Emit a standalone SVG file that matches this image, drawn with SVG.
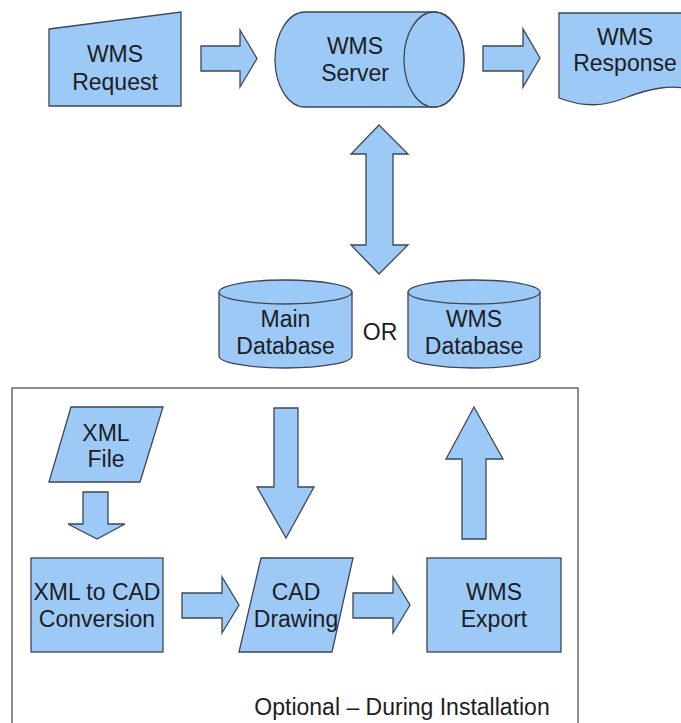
<svg xmlns="http://www.w3.org/2000/svg" width="681" height="723" viewBox="0 0 681 723">
<style>
.s{fill:#9dc9f6;stroke:#3d4756;stroke-width:1.3;stroke-linejoin:miter}
.t{font-family:"Liberation Sans",Arial,sans-serif;font-size:23px;fill:#1b1d24;text-anchor:middle}
.box{fill:#ffffff;stroke:#707070;stroke-width:1.6}
</style>
<rect width="681" height="723" fill="#ffffff"/>
<g id="optional-group">
<rect class="box" x="12" y="388" width="566" height="350"/>
<text class="t" x="402" y="715">Optional – During Installation</text>
</g>
<g id="wms-request">
<polygon class="s" points="49,29 181,12 181,106 49,106"/>
<text class="t" x="115" y="62">WMS</text>
<text class="t" x="115" y="90">Request</text>
</g>
<g id="wms-server">
<path class="s" d="M305,12 H434 A30,47.5 0 0 1 434,107 H305 A30,47.5 0 0 1 305,12 Z"/>
<ellipse class="s" cx="434" cy="59.5" rx="30" ry="47.5"/>
<text class="t" x="355" y="54">WMS</text>
<text class="t" x="355" y="81">Server</text>
</g>
<g id="wms-response">
<path class="s" d="M559,13 H695 V90 C672,84 650,88 625,98 C605,106 585,108 559,98 Z"/>
<text class="t" x="625" y="45">WMS</text>
<text class="t" x="625" y="71">Response</text>
</g>
<g id="main-database">
<path class="s" d="M219,292 A66.5,12 0 0 1 352,292 V356 A66.5,12 0 0 1 219,356 Z"/>
<path class="s" d="M219,292 A66.5,12 0 0 0 352,292"/>
<text class="t" x="285.5" y="327">Main</text>
<text class="t" x="285.5" y="354">Database</text>
</g>
<g id="or-label">
<text class="t" x="380" y="340">OR</text>
</g>
<g id="wms-database">
<path class="s" d="M408,292 A66,12 0 0 1 540,292 V356 A66,12 0 0 1 408,356 Z"/>
<path class="s" d="M408,292 A66,12 0 0 0 540,292"/>
<text class="t" x="474" y="327">WMS</text>
<text class="t" x="474" y="354">Database</text>
</g>
<g id="xml-file">
<polygon class="s" points="71,407 163,407 140,482 49,482"/>
<text class="t" x="106" y="441">XML</text>
<text class="t" x="106" y="467">File</text>
</g>
<g id="xml-to-cad">
<rect class="s" x="31" y="558" width="132" height="94"/>
<text class="t" x="97" y="600">XML to CAD</text>
<text class="t" x="97" y="627">Conversion</text>
</g>
<g id="cad-drawing">
<polygon class="s" points="261,558 353,558 332,652 239,652"/>
<text class="t" x="296" y="600">CAD</text>
<text class="t" x="296" y="627">Drawing</text>
</g>
<g id="wms-export">
<rect class="s" x="427" y="558" width="134" height="94"/>
<text class="t" x="494" y="600">WMS</text>
<text class="t" x="494" y="627">Export</text>
</g>
<g id="connectors">
<path class="s" d="M201,46 H240 V30 L257,58.5 L240,87 V71 H201 Z"/>
<path class="s" d="M483,46 H523 V29 L540,58 L523,87 V71 H483 Z"/>
<path class="s" d="M379,125 L408,154 H393 V245 H408 L379,274 L351,245 H366 V154 H351 Z"/>
<path class="s" d="M83,492 H108 V524 H125 L97,539 L68,524 H83 Z"/>
<path class="s" d="M274,408 H298 V487 H314 L286,538 L257,487 H274 Z"/>
<path class="s" d="M474,407 L503,459 H486 V539 H462 V459 H446 Z"/>
<path class="s" d="M182,593 H222 V577 L239,605 L222,633 V618 H182 Z"/>
<path class="s" d="M353,593 H393 V577 L410,605 L393,633 V618 H353 Z"/>
</g>
</svg>
